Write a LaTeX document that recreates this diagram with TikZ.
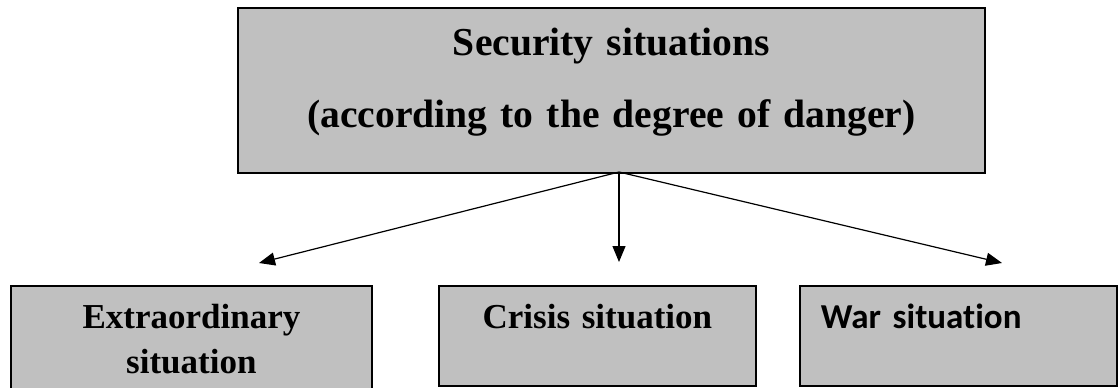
\documentclass[tikz,border=0pt]{standalone}
\usepackage{fontspec}
\setmainfont{Liberation Serif}
\newfontfamily\warFont[Ligatures=NoCommon]{Carlito}
\usepackage{tikz}
\usetikzlibrary{arrows.meta}
\tikzstyle{diagram} = [x = 0.5pt, y = -0.5pt]
\definecolor{boxColor}{RGB}{192,192,192}
\tikzstyle{boxStyle} = [rectangle, draw=black, fill=boxColor, line width=0.9pt, inner sep=0pt, anchor=north west]
\tikzstyle{topBox} = [boxStyle, text width=373.5pt, align=center, text height=24pt, text depth=58.5pt, font=\fontsize{19.8}{36}\selectfont\bfseries]
\tikzstyle{caseBox} = [boxStyle, text height=21.5pt, text depth=28.5pt, align=center, font=\fontsize{17.5}{22.5}\selectfont\bfseries]
\tikzstyle{branchArrow} = [-{Triangle[length=8pt, width=6.5pt]}, line width=0.6pt]

\begin{document}
\begin{tikzpicture}[diagram]
        \useasboundingbox (0,0) rectangle (1120,387);
        \fill [white] (0,0) rectangle (1120,387);

        \node [topBox] (security) at (237,7) {Security situations\\(according to the degree of danger)};

        \node [caseBox, text width=180.5pt, text depth=36pt] (extraordinary) at (10,285) {Extraordinary\\situation};
        \node [caseBox, text width=158.5pt] (crisis) at (438,285) {Crisis situation};
        \node [caseBox, text width=137.5pt, inner xsep=10.5pt, align=left, font=\fontsize{17.5}{22.5}\selectfont\warFont\bfseries] (war) at (799,285) {War situation};

        \coordinate (fork) at (619,172);
        \coordinate (extraTip) at (259,263);
        \coordinate (crisisTip) at (619,262);
        \coordinate (warTip) at (1002,263);
        \draw [branchArrow] (fork) -- (extraTip);
        \draw [branchArrow] (fork) -- (crisisTip);
        \draw [branchArrow] (fork) -- (warTip);
      \end{tikzpicture}
\end{document}
